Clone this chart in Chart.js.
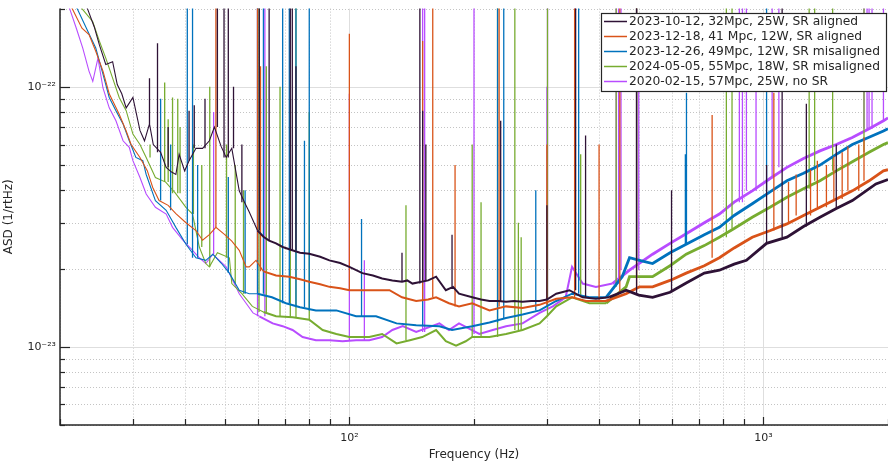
<!DOCTYPE html>
<html>
<head>
<meta charset="utf-8">
<script src="https://cdn.jsdelivr.net/npm/chart.js@4.4.1/dist/chart.umd.min.js"></script>
<style>
  html, body { margin: 0; padding: 0; background: #fff; }
</style>
</head>
<body>
<canvas id="asdChart" width="888" height="463"></canvas>
<script>
// ASD values are in units of 1e-23 /rtHz
const UNIT = 1e-23;

const X_TICKS = [20, 30, 40, 50, 60, 70, 80, 90, 100, 200, 300, 400, 500, 600, 700, 800, 900, 1000, 2000];
const Y_TICKS = [0.5, 0.6, 0.7, 0.8, 0.9, 1, 2, 3, 4, 5, 6, 7, 8, 9, 10, 20];

const labels = [
  '2023-10-12, 32Mpc, 25W, SR aligned',
  '2023-12-18, 41 Mpc, 12W, SR aligned',
  '2023-12-26, 49Mpc, 12W, SR misaligned',
  '2024-05-05, 55Mpc, 18W, SR misaligned',
  '2020-02-15, 57Mpc, 25W, no SR'
];
const colors = ['#2e1236', '#d95319', '#0072bd', '#77ac30', '#b84cff'];

// 2023-10-12
const octFreq = [20, 22, 23.3, 24.2, 24.9, 25.8, 26.8, 27.5, 28.2, 28.9, 30, 31.2, 32, 32.9, 33.6, 35, 36.1, 37.2, 38.1, 38.8, 40, 41, 42.6, 44.2, 45.9, 47.2, 49, 50.4, 52, 54.2, 55.8, 57.3, 60, 62, 64, 66.5, 69, 72.8, 76, 80, 85, 89.5, 95, 100, 107.5, 114, 120, 127, 134, 138, 142, 155, 162, 171, 178, 184, 198, 208, 218, 229, 239, 250, 262, 275, 288, 300, 316, 340, 366, 394, 424, 445, 466, 500, 540, 595, 651, 720, 783, 850, 910, 1018, 1140, 1250, 1370, 1500, 1640, 1870, 2000];
const octAsd = [32, 24, 20, 17, 14.5, 12.2, 12.5, 10.2, 9.4, 8.3, 9.1, 6.8, 6.2, 7.2, 6.0, 5.6, 4.9, 4.7, 4.6, 5.5, 4.75, 5.2, 5.8, 5.8, 6.2, 7.0, 5.9, 5.35, 5.8, 3.98, 3.6, 3.3, 2.8, 2.65, 2.56, 2.5, 2.42, 2.35, 2.3, 2.28, 2.22, 2.15, 2.1, 2.03, 1.92, 1.88, 1.83, 1.8, 1.78, 1.8, 1.75, 1.8, 1.86, 1.65, 1.7, 1.6, 1.55, 1.52, 1.5, 1.5, 1.49, 1.5, 1.49, 1.5, 1.5, 1.52, 1.6, 1.65, 1.55, 1.53, 1.55, 1.6, 1.65, 1.58, 1.55, 1.62, 1.76, 1.92, 1.97, 2.08, 2.15, 2.5, 2.64, 2.9, 3.15, 3.4, 3.65, 4.23, 4.4];
const octLines = [[32.9, 10.8], [34.4, 14.7], [36.5, 7], [41, 8.1], [42.2, 8.5], [44.8, 9], [48, 30], [49.8, 30], [51, 30], [52.5, 10], [55, 6], [60.6, 30], [64, 30], [72, 30], [72.8, 30], [74.3, 12], [134, 2.3], [148, 30], [150.3, 8.1], [153, 6.0], [177, 2.7], [232, 7.4], [300, 3.5], [352, 30], [372, 6.5], [494, 30], [600, 4], [1018, 5], [1110, 30], [1270, 8.6], [1500, 6]];

// 2023-12-18
const decAFreq = [20, 21.4, 22.6, 23.5, 24.4, 25.4, 26.3, 27.8, 28.9, 29.7, 31.2, 32.5, 33.5, 34.7, 36.5, 38.1, 40.3, 42.6, 44.2, 45.9, 47.6, 50, 52, 54.2, 56.3, 57.3, 59.5, 62, 66.5, 71.6, 76, 80, 85, 89.5, 95, 100, 111.7, 125, 134, 145, 155, 162, 174, 184, 198, 218, 239, 262, 288, 316, 345, 373, 417, 466, 502, 540, 595, 651, 720, 783, 850, 940, 1040, 1140, 1250, 1370, 1500, 1640, 1800, 1950, 2000];
const decAAsd = [26, 20, 16.8, 15.9, 13.7, 11.5, 9.4, 7.85, 6.76, 6.0, 5.35, 4.76, 4.1, 3.65, 3.5, 3.25, 3.0, 2.8, 2.57, 2.7, 2.88, 2.7, 2.55, 2.35, 2.03, 2.03, 2.15, 1.95, 1.88, 1.86, 1.82, 1.78, 1.74, 1.70, 1.68, 1.65, 1.65, 1.65, 1.55, 1.5, 1.52, 1.55, 1.47, 1.43, 1.47, 1.38, 1.43, 1.41, 1.45, 1.53, 1.55, 1.5, 1.5, 1.6, 1.70, 1.70, 1.8, 1.92, 2.05, 2.2, 2.4, 2.64, 2.8, 2.97, 3.2, 3.44, 3.7, 3.98, 4.35, 4.75, 4.8];
const decALines = [[47.6, 30], [60, 30], [61, 12], [100, 16], [150.3, 15], [159, 30], [180, 5], [230, 30], [300, 6], [350, 30], [401, 6], [450, 30], [494, 30], [752, 7.8], [1060, 9.5], [1150, 4.3], [1200, 4.6], [1300, 4.8], [1350, 5.2], [1420, 5.0], [1480, 5.4], [1550, 5.6], [1600, 5.9], [1700, 6.0], [1750, 6.4]];

// 2023-12-26
const decBFreq = [20, 22, 23.5, 24.4, 25.4, 26.3, 27.3, 28.4, 29.4, 30.5, 31.7, 32.3, 34, 36.1, 38.1, 40.3, 42.6, 45, 46.8, 49, 51.3, 54.2, 57.3, 60, 65, 70.3, 76, 83, 93, 103.8, 116, 130, 145, 165, 177, 198, 218, 239, 262, 288, 316, 345, 380, 417, 456, 475, 502, 540, 595, 651, 720, 783, 850, 940, 1040, 1140, 1250, 1370, 1500, 1640, 1800, 1950, 2000];
const decBAsd = [26, 20, 16, 14.1, 11.2, 9.1, 8.1, 7.2, 6.2, 5.35, 5.2, 4.6, 3.65, 3.35, 2.88, 2.48, 2.2, 2.15, 2.27, 2.1, 1.92, 1.65, 1.6, 1.6, 1.55, 1.47, 1.42, 1.38, 1.38, 1.31, 1.31, 1.23, 1.21, 1.2, 1.16, 1.2, 1.24, 1.29, 1.33, 1.38, 1.5, 1.6, 1.55, 1.55, 1.86, 2.2, 2.15, 2.09, 2.3, 2.48, 2.7, 2.88, 3.2, 3.55, 3.95, 4.35, 4.65, 5.0, 5.5, 6.0, 6.4, 6.76, 6.9];
const decBLines = [[35, 9], [37, 6], [40.6, 30], [41.8, 30], [43, 5], [51, 4.5], [56, 4], [60, 30], [62, 30], [69, 30], [71.6, 30], [74.3, 30], [77.9, 6.2], [80, 30], [107, 3.1], [150.3, 3], [228, 30], [236, 30], [282, 4], [358, 30], [494, 30], [648, 5.5], [652, 9.5], [1018, 30]];

// 2024-05-05
const mayFreq = [20, 22.6, 24, 24.9, 25.8, 26.8, 27.8, 28.9, 30, 31.2, 32.3, 34, 36, 38, 40.3, 41.8, 43.4, 45, 45.9, 48, 51.3, 52, 55, 58.3, 62, 66.5, 73, 80, 86.2, 93, 100, 111.7, 120, 130, 140, 150, 162, 171, 181, 191, 198, 218, 239, 262, 288, 300, 316, 345, 380, 417, 466, 475, 540, 595, 651, 720, 783, 850, 940, 1040, 1140, 1250, 1370, 1500, 1640, 1800, 1950, 2000];
const mayAsd = [30, 20, 17.8, 15, 12.9, 10.8, 9.1, 8.1, 6.58, 6.0, 5.35, 4.48, 4.3, 3.9, 3.44, 3.24, 2.42, 2.09, 2.03, 2.3, 2.2, 1.75, 1.6, 1.43, 1.36, 1.31, 1.3, 1.27, 1.16, 1.12, 1.09, 1.09, 1.12, 1.03, 1.06, 1.09, 1.16, 1.05, 1.01, 1.05, 1.09, 1.09, 1.12, 1.16, 1.23, 1.31, 1.43, 1.55, 1.47, 1.47, 1.70, 1.86, 1.86, 2.05, 2.27, 2.45, 2.64, 2.85, 3.15, 3.45, 3.76, 4.05, 4.35, 4.75, 5.15, 5.6, 6.0, 6.1];
const mayLines = [[33, 6], [35.8, 10.4], [36.5, 7.5], [37.4, 9.1], [38.5, 9], [39, 7], [42, 6], [44, 5], [46, 10], [50.5, 6], [53, 5], [55.5, 4], [60.5, 30], [63, 12], [68, 10], [72, 9], [74.3, 30], [80, 8], [137, 3.5], [198, 6], [208, 3.6], [228, 30], [251, 30], [256, 3.0], [260, 2.64], [301, 30], [362, 5.5], [441, 30], [494, 30], [814, 30], [840, 30], [1290, 30], [1330, 30], [1470, 30], [1750, 30]];

// 2020-02-15
const febFreq = [20, 21.1, 21.9, 22.7, 23.5, 24, 24.7, 25.4, 26.3, 27.3, 28.4, 29.4, 30, 31.2, 32.3, 34, 36.1, 37.4, 39.6, 41.8, 43.4, 45, 46.8, 50.4, 52.3, 54.2, 56.3, 58.5, 60.6, 65.3, 69, 72.9, 77.1, 83, 89.5, 96.3, 103.8, 111.7, 120, 127, 134.6, 145, 165, 174, 184, 206, 222, 239, 262, 288, 310, 333, 345, 366, 394, 432, 475, 540, 595, 651, 720, 783, 850, 940, 1040, 1140, 1250, 1370, 1500, 1640, 1800, 1950, 2000];
const febAsd = [24, 20, 16.8, 14.1, 11.5, 10.5, 12.9, 9.9, 8.3, 7.4, 6.2, 5.85, 5.2, 4.48, 3.87, 3.44, 3.24, 2.88, 2.57, 2.35, 2.2, 2.09, 2.27, 2.03, 1.8, 1.6, 1.47, 1.35, 1.31, 1.23, 1.2, 1.16, 1.09, 1.06, 1.06, 1.05, 1.06, 1.06, 1.09, 1.16, 1.2, 1.14, 1.23, 1.16, 1.23, 1.12, 1.16, 1.2, 1.23, 1.35, 1.43, 1.55, 2.03, 1.75, 1.70, 1.75, 1.97, 2.27, 2.5, 2.72, 3.0, 3.24, 3.6, 3.98, 4.45, 4.9, 5.3, 5.67, 6.0, 6.38, 6.9, 7.4, 7.6];
const febLines = [[47, 8], [60, 30], [62.5, 30], [100, 9.4], [108.7, 2.15], [150.3, 30], [152, 30], [200, 30], [300, 10], [301, 30], [351, 25], [441, 30], [447, 30], [453, 30], [500, 12], [875, 30], [890, 30], [910, 30], [960, 13], [1050, 30], [1090, 30], [1750, 30], [1780, 30], [1800, 30], [1830, 30], [1950, 30]];

const series = [
  [octFreq, octAsd, octLines],
  [decAFreq, decAAsd, decALines],
  [decBFreq, decBAsd, decBLines],
  [mayFreq, mayAsd, mayLines],
  [febFreq, febAsd, febLines]
];

// nearest measured point, used as the foot of a spectral line
function nearestValue(freqs, vals, f) {
  let best = 0;
  freqs.forEach((g, i) => {
    if (Math.abs(Math.log(g / f)) < Math.abs(Math.log(freqs[best] / f))) best = i;
  });
  return vals[best];
}

// the measured traces are noisy, so they read as a thicker band at higher frequency
function bandWidth(ctx) {
  const f = ctx.p0.parsed.x;
  if (f < 60) return 1.1;
  if (f < 400) return 2;
  return 2.8;
}

const datasets = [];
series.forEach(([freqs, vals, lines], i) => {
  datasets.push({
    label: labels[i],
    data: freqs.map((f, k) => ({ x: f, y: vals[k] * UNIT })),
    borderColor: colors[i],
    borderWidth: 1,
    segment: { borderWidth: bandWidth },
    pointRadius: 0,
    tension: 0
  });
  const spikes = [];
  lines.forEach(([f, peak]) => {
    spikes.push({ x: f, y: nearestValue(freqs, vals, f) * UNIT });
    spikes.push({ x: f, y: peak * UNIT });
    spikes.push({ x: f, y: null });
  });
  datasets.push({
    label: '',
    data: spikes,
    borderColor: colors[i],
    borderWidth: 1.3,
    pointRadius: 0,
    spanGaps: false
  });
});

const isDecade = v => Math.abs(Math.log10(v) - Math.round(Math.log10(v))) < 1e-6;
const supers = { '-': '\u207B', '0': '\u2070', '1': '\u00B9', '2': '\u00B2', '3': '\u00B3' };
const powLabel = v => '10' + String(Math.round(Math.log10(v))).split('').map(c => supers[c]).join('');

// grid lines, matlab style
const gridPlugin = {
  id: 'grid',
  beforeDatasetsDraw(chart) {
    const { ctx, chartArea: a, scales: { x, y } } = chart;
    ctx.save();
    ctx.lineWidth = 1;
    X_TICKS.forEach(v => {
      const px = Math.round(x.getPixelForValue(v)) + 0.5;
      ctx.strokeStyle = isDecade(v) ? '#dedede' : '#c4c4c4';
      ctx.setLineDash(isDecade(v) ? [] : [1, 2]);
      ctx.beginPath(); ctx.moveTo(px, a.top); ctx.lineTo(px, a.bottom); ctx.stroke();
    });
    Y_TICKS.forEach(v => {
      const py = Math.round(y.getPixelForValue(v * UNIT)) + 0.5;
      ctx.strokeStyle = isDecade(v) ? '#dedede' : '#c4c4c4';
      ctx.setLineDash(isDecade(v) ? [] : [1, 2]);
      ctx.beginPath(); ctx.moveTo(a.left, py); ctx.lineTo(a.right, py); ctx.stroke();
    });
    ctx.restore();
  },
  afterDatasetsDraw(chart) {
    const { ctx, chartArea: a, scales: { x, y } } = chart;
    ctx.save();
    ctx.strokeStyle = '#262626';
    ctx.lineWidth = 1.5;
    ctx.beginPath();
    ctx.moveTo(a.left, a.top); ctx.lineTo(a.left, a.bottom); ctx.lineTo(a.right, a.bottom);
    ctx.stroke();
    ctx.lineWidth = 1.2;
    X_TICKS.forEach(v => {
      const px = Math.round(x.getPixelForValue(v)) + 0.5;
      ctx.beginPath(); ctx.moveTo(px, a.bottom); ctx.lineTo(px, a.bottom - (isDecade(v) ? 8 : 6)); ctx.stroke();
    });
    Y_TICKS.forEach(v => {
      const py = Math.round(y.getPixelForValue(v * UNIT)) + 0.5;
      ctx.beginPath(); ctx.moveTo(a.left, py); ctx.lineTo(a.left + (isDecade(v) ? 10 : 5), py); ctx.stroke();
    });
    ctx.restore();
  }
};

// boxed legend in the top right corner
const legendPlugin = {
  id: 'boxLegend',
  afterDraw(chart) {
    const ctx = chart.ctx;
    const left = 601, top = 13, w = 285, h = 78;
    ctx.save();
    ctx.fillStyle = '#ffffff';
    ctx.fillRect(left, top, w, h);
    ctx.strokeStyle = '#262626';
    ctx.lineWidth = 1.2;
    ctx.strokeRect(left + 0.5, top + 0.5, w, h);
    ctx.font = '12.3px "DejaVu Sans"';
    ctx.textBaseline = 'middle';
    labels.forEach((t, i) => {
      const yy = top + 8.5 + i * 15;
      ctx.strokeStyle = colors[i];
      ctx.lineWidth = 1.5;
      ctx.beginPath(); ctx.moveTo(left + 3, yy); ctx.lineTo(left + 26, yy); ctx.stroke();
      ctx.fillStyle = '#262626';
      ctx.fillText(t, left + 28, yy + 0.5);
    });
    ctx.restore();
  }
};

// invisible tick marks keep the labels off the axis without the extra edge padding
const hiddenTicks = { display: true, drawOnChartArea: false, drawTicks: true, color: 'rgba(0,0,0,0)' };

new Chart(document.getElementById('asdChart'), {
  type: 'line',
  data: { datasets },
  options: {
    responsive: false,
    animation: false,
    devicePixelRatio: 1,
    layout: { padding: { top: 3, right: 0, left: 0, bottom: 0 } },
    plugins: { legend: { display: false }, tooltip: { enabled: false } },
    scales: {
      x: {
        type: 'logarithmic',
        min: 20,
        max: 2000,
        grid: Object.assign({ tickLength: 7 }, hiddenTicks),
        border: { display: false },
        afterBuildTicks: s => { s.ticks = X_TICKS.map(v => ({ value: v })); },
        afterFit: s => { s.height = 38; },
        ticks: {
          autoSkip: false,
          maxRotation: 0,
          padding: 0,
          color: '#262626',
          font: { family: 'DejaVu Sans', size: 11 },
          callback: v => isDecade(v) ? powLabel(v) : ''
        },
        title: {
          display: true,
          text: 'Frequency (Hz)',
          color: '#262626',
          font: { family: 'DejaVu Sans', size: 12 },
          padding: { top: 0, bottom: 1 }
        }
      },
      y: {
        type: 'logarithmic',
        min: 0.5 * UNIT,
        max: 20 * UNIT,
        grid: Object.assign({ tickLength: 2 }, hiddenTicks),
        border: { display: false },
        afterBuildTicks: s => { s.ticks = Y_TICKS.map(v => ({ value: v * UNIT })); },
        afterFit: s => { s.width = 60; },
        ticks: {
          autoSkip: false,
          padding: 2,
          color: '#262626',
          font: { family: 'DejaVu Sans', size: 11 },
          callback: v => isDecade(v) ? powLabel(v) : ''
        },
        title: {
          display: true,
          text: 'ASD (1/rtHz)',
          color: '#262626',
          font: { family: 'DejaVu Sans', size: 12 },
          padding: { top: 2, bottom: 0 }
        }
      }
    }
  },
  plugins: [gridPlugin, legendPlugin]
});
</script>
</body>
</html>
